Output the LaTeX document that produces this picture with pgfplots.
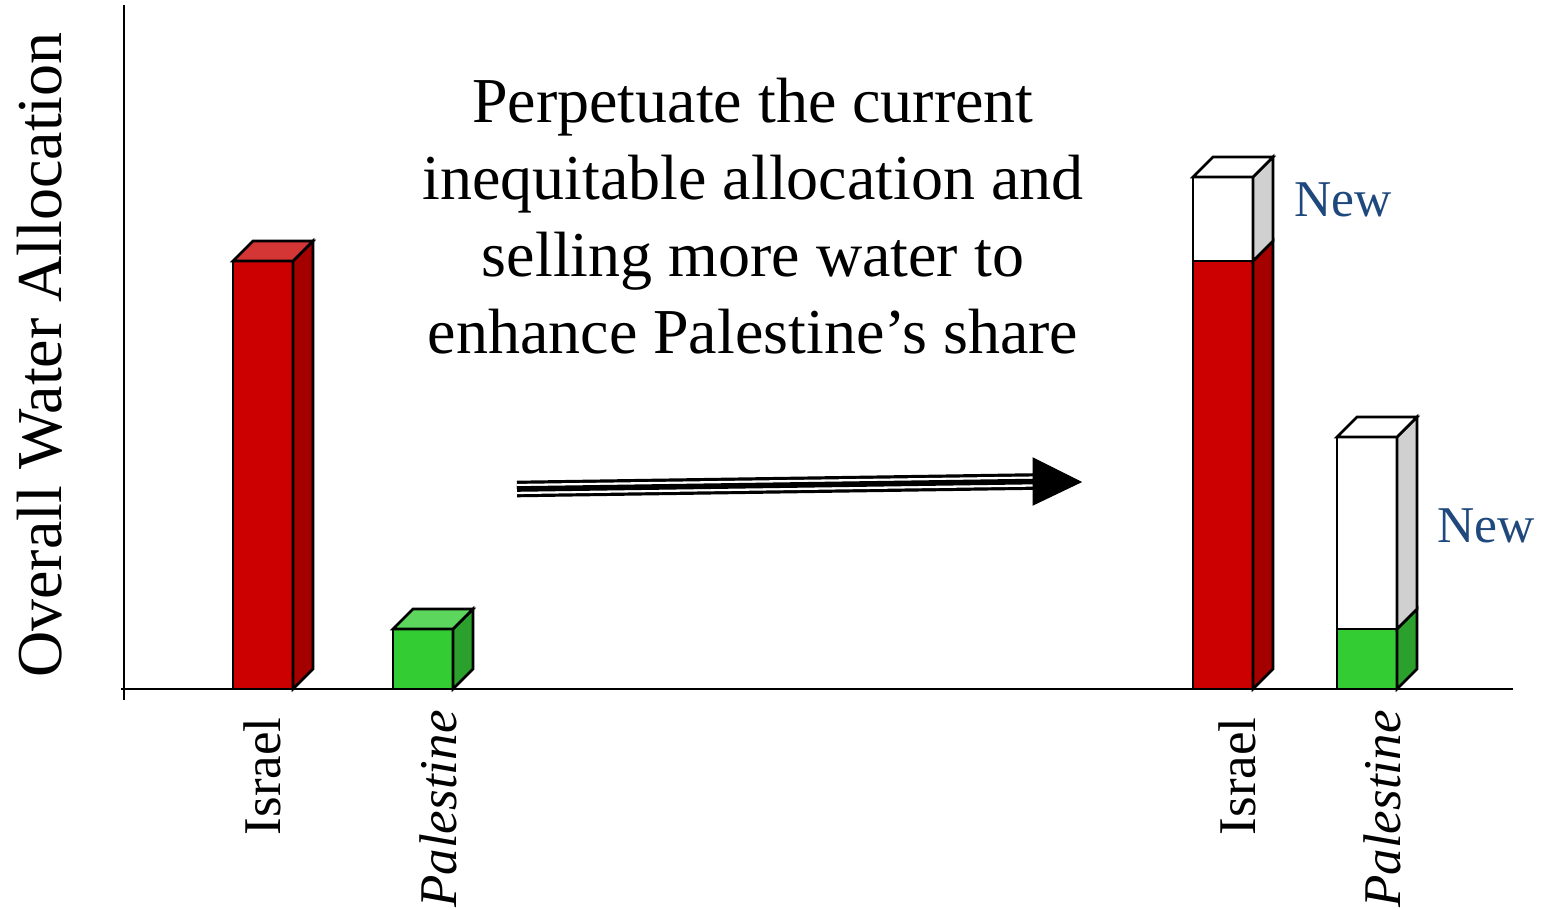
\documentclass[border=0pt]{standalone}
\usepackage{fontspec}
\setmainfont{Liberation Serif}
\usepackage{pgfplots}
\pgfplotsset{compat=1.18}

\definecolor{redF}{RGB}{204,0,0}
\definecolor{redS}{RGB}{165,0,0}
\definecolor{redT}{RGB}{212,54,54}
\definecolor{grnF}{RGB}{51,204,51}
\definecolor{grnS}{RGB}{44,160,44}
\definecolor{grnT}{RGB}{92,214,92}
\definecolor{grayS}{RGB}{208,208,208}
\definecolor{newblue}{RGB}{31,73,125}

\begin{document}
\begin{tikzpicture}
\begin{axis}[
  x=0.5pt, y=0.5pt,
  xmin=124, xmax=1513, ymin=0, ymax=684,
  enlargelimits=false,
  clip=false,
  axis lines=left,
  axis line style={-, line width=1.15pt, black},
  ytick=\empty,
  xtick={262,438,1237,1382},
  xticklabels={Israel\kern3.5pt, \textit{Palestine}, Israel\kern3.5pt, \textit{Palestine}},
  major tick length=0pt,
  xtick style={draw=none},
  x tick label style={yshift=-10.5pt, rotate=90, anchor=east, inner sep=0pt,
    font=\fontsize{26.5}{30}\selectfont},
]
% bounding box of the whole picture (pixel frame 1548 x 910)
\path (axis cs:0,-221) rectangle (axis cs:1548,689);
% axis line extensions
\draw[line width=1.15pt] (axis cs:124,-11) -- (axis cs:124,0);
\draw[line width=1.15pt] (axis cs:121,0) -- (axis cs:124,0);

% ---- bars (front faces): totals incl. new water first, then current allocation
\addplot[ybar, bar width=30pt, bar shift=0pt, fill=white, draw=black, line width=1.3pt]
  coordinates {(1223,512) (1367,252)};
\addplot[ybar, bar width=30pt, bar shift=0pt, fill=redF, draw=black, line width=1.3pt]
  coordinates {(263,428) (1223,428)};
\addplot[ybar, bar width=30pt, bar shift=0pt, fill=grnF, draw=black, line width=1.3pt]
  coordinates {(423,60) (1367,60)};

% ---- 3D side and top faces
% Israel (left)
\addplot[fill=redS, draw=black, line width=1.3pt] coordinates {(293,0) (313,20) (313,448) (293,428)} --cycle;
\addplot[fill=redT, draw=black, line width=1.3pt] coordinates {(233,428) (253,448) (313,448) (293,428)} --cycle;
% Palestine (left)
\addplot[fill=grnS, draw=black, line width=1.3pt] coordinates {(453,0) (473,20) (473,80) (453,60)} --cycle;
\addplot[fill=grnT, draw=black, line width=1.3pt] coordinates {(393,60) (413,80) (473,80) (453,60)} --cycle;
% Israel (right)
\addplot[fill=redS, draw=black, line width=1.3pt] coordinates {(1253,0) (1273,20) (1273,448) (1253,428)} --cycle;
\addplot[fill=grayS, draw=black, line width=1.3pt] coordinates {(1253,428) (1273,448) (1273,532) (1253,512)} --cycle;
\addplot[fill=white, draw=black, line width=1.3pt] coordinates {(1193,512) (1213,532) (1273,532) (1253,512)} --cycle;
% Palestine (right)
\addplot[fill=grnS, draw=black, line width=1.3pt] coordinates {(1397,0) (1417,20) (1417,80) (1397,60)} --cycle;
\addplot[fill=grayS, draw=black, line width=1.3pt] coordinates {(1397,60) (1417,80) (1417,272) (1397,252)} --cycle;
\addplot[fill=white, draw=black, line width=1.3pt] coordinates {(1337,252) (1357,272) (1417,272) (1397,252)} --cycle;

% ---- arrow
\addplot[black, line width=8.3pt] coordinates {(517,200) (1036,207.5)};
\addplot[white, line width=5.1pt] coordinates {(517,200) (1036,207.5)};
\addplot[black, line width=2.8pt] coordinates {(517,200) (1036,207.5)};
\addplot[fill=black, draw=black, line width=0.5pt] coordinates {(1033,231) (1081,207) (1033,184)} --cycle;

% ---- texts
\node[anchor=base, inner sep=0pt, font=\fontsize{32}{38}\selectfont] at (axis cs:753,566) {Perpetuate the current};
\node[anchor=base, inner sep=0pt, font=\fontsize{32}{38}\selectfont] at (axis cs:753,489) {inequitable allocation and};
\node[anchor=base, inner sep=0pt, font=\fontsize{32}{38}\selectfont] at (axis cs:753,412) {selling more water to};
\node[anchor=base, inner sep=0pt, font=\fontsize{32}{38}\selectfont] at (axis cs:753,335) {enhance Palestine’s share};

\node[anchor=base west, inner sep=0pt, text=newblue, font=\fontsize{25.8}{30}\selectfont] at (axis cs:1294,472) {New};
\node[anchor=base west, inner sep=0pt, text=newblue, font=\fontsize{25.8}{30}\selectfont] at (axis cs:1437,147) {New};

\node[rotate=90, anchor=base, inner sep=0pt, font=\fontsize{32}{38}\selectfont] at (axis cs:62,334) {Overall Water Allocation};
\end{axis}
\end{tikzpicture}
\end{document}
